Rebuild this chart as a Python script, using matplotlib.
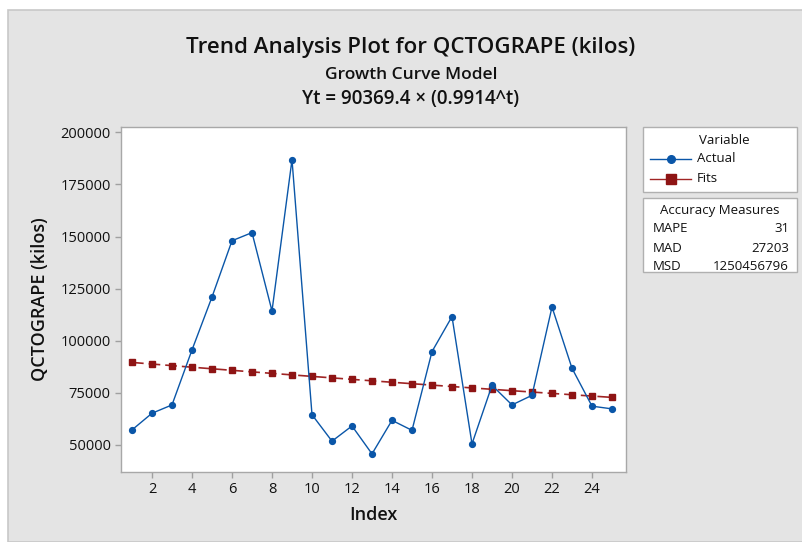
import matplotlib
matplotlib.use("Agg")
import matplotlib.pyplot as plt
from matplotlib.patches import Rectangle
from matplotlib.lines import Line2D

index = list(range(1, 26))
actual = [57200, 65200, 69200, 95600, 121000, 148000, 151900, 114300, 186900, 64500,
          51800, 59100, 45700, 61800, 57000, 94800, 111600, 50500, 78600, 69200,
          73800, 116200, 86800, 68600, 67300]
fits = [89592, 88822, 88058, 87301, 86550, 85806, 85068, 84336, 83611, 82892,
        82179, 81472, 80771, 80077, 79388, 78705, 78028, 77357, 76692, 76033,
        75379, 74730, 74088, 73451, 72819]
xticks = list(range(2, 25, 2))
yticks = [50000, 75000, 100000, 125000, 150000, 175000, 200000]
acc_names = ["MAPE", "MAD", "MSD"]
acc_values = ["31", "27203", "1250456796"]

W, H = 803, 542
plt.rcParams['font.family'] = ['Open Sans', 'DejaVu Sans']
fig = plt.figure(figsize=(W / 100, H / 100), dpi=100)
fig.patch.set_facecolor("white")

def fx(px):
    return px / W

def fy(py):
    return 1 - py / H

bg = "#E4E4E4"
border = "#C8C8C8"
fig.patches.append(Rectangle((fx(8), 0), 1 - fx(8), fy(10), transform=fig.transFigure,
                             facecolor=bg, edgecolor=border, linewidth=1.2, zorder=-10))

ax = fig.add_axes([fx(121), fy(472), fx(626) - fx(121), fy(127) - fy(472)])
ax.set_zorder(1)
ax.set_facecolor("white")
ax.plot(index, actual, color="#0A56A8", linewidth=1.0, marker="o", markersize=4.2,
        markerfacecolor="#0A56A8", markeredgecolor="#0A56A8", zorder=3)
ax.plot(index, fits, color="#A02424", linewidth=1.2, linestyle=(0, (7, 3)), marker="s",
        markersize=5, markerfacecolor="#8E1414", markeredgecolor="#8E1414", zorder=2)
ax.set_xlim(0.45, 25.7)
ax.set_ylim(37000, 202600)
ax.set_xticks(xticks)
ax.set_yticks(yticks)
ax.set_yticklabels([str(v) for v in yticks])
for s in ax.spines.values():
    s.set_color("#A8A8A8")
    s.set_linewidth(1.0)
ax.tick_params(axis="both", colors="#A0A0A0", labelcolor="#111111", labelsize=10.5,
               length=4, width=1)
ax.set_xlabel("Index", fontsize=13, color="#111111", labelpad=6, fontweight="semibold")
ax.set_ylabel("QCTOGRAPE (kilos)", fontsize=13, color="#111111", labelpad=8,
              fontweight="semibold")

fig.text(fx(411), fy(47), "Trend Analysis Plot for QCTOGRAPE (kilos)", ha="center", va="center",
         fontsize=16, color="#111111", fontweight="semibold")
fig.text(fx(411), fy(75), "Growth Curve Model", ha="center", va="center",
         fontsize=12.5, color="#111111", fontweight="semibold")
fig.text(fx(411), fy(99), "Yt = 90369.4 × (0.9914^t)", ha="center", va="center",
         fontsize=13.5, color="#111111", fontweight="semibold")

# legend box
fig.patches.append(Rectangle((fx(643), fy(192)), fx(797) - fx(643), fy(127) - fy(192),
                             transform=fig.transFigure, facecolor="white",
                             edgecolor="#B0B0B0", linewidth=1.0, zorder=1))
fig.text(fx(724), fy(140), "Variable", ha="center", va="center", fontsize=9.5, color="#111111")
fig.lines.append(Line2D([fx(650), fx(691)], [fy(159), fy(159)], transform=fig.transFigure,
                        color="#0A56A8", linewidth=1.0, zorder=2))
fig.lines.append(Line2D([fx(671)], [fy(159)], transform=fig.transFigure, color="#0A56A8",
                        marker="o", markersize=5.5, linestyle="none", zorder=3))
fig.lines.append(Line2D([fx(650), fx(691)], [fy(179), fy(179)], transform=fig.transFigure,
                        color="#A02424", linewidth=1.0, zorder=2))
fig.lines.append(Line2D([fx(671)], [fy(179)], transform=fig.transFigure, color="#8E1414",
                        marker="s", markersize=6.5, linestyle="none", zorder=3))
fig.text(fx(697), fy(158), "Actual", ha="left", va="center", fontsize=9.5, color="#111111")
fig.text(fx(697), fy(178), "Fits", ha="left", va="center", fontsize=9.5, color="#111111")

# accuracy box
fig.patches.append(Rectangle((fx(643), fy(272)), fx(797) - fx(643), fy(198) - fy(272),
                             transform=fig.transFigure, facecolor="white",
                             edgecolor="#B0B0B0", linewidth=1.0, zorder=1))
fig.text(fx(720), fy(211), "Accuracy Measures", ha="center", va="center", fontsize=9.5,
         color="#111111")
for i, (n, v) in enumerate(zip(acc_names, acc_values)):
    yy = fy(229 + i * 19)
    fig.text(fx(653), yy, n, ha="left", va="center", fontsize=9.5, color="#111111")
    fig.text(fx(789), yy, v, ha="right", va="center", fontsize=9.5, color="#111111")

fig.savefig("out.png", dpi=100, facecolor=fig.get_facecolor())
